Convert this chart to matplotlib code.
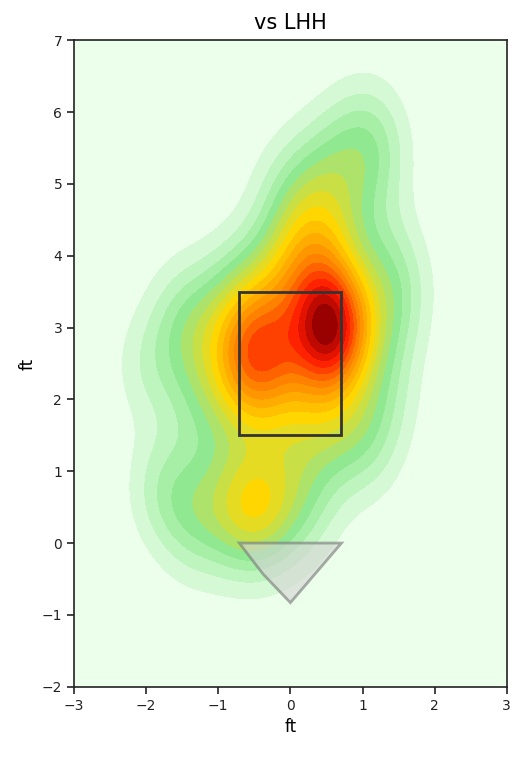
import numpy as np
import matplotlib.pyplot as plt
from matplotlib.colors import LinearSegmentedColormap
from matplotlib.patches import Rectangle, Polygon

# pitch locations (plate_x, plate_z) in ft
plate_x = [0.60, 0.55, 0.60, 0.55, 0.58, 0.52, 0.62,
           -0.40, -0.60, -0.20, -0.50, -0.30, 0.00, -0.70, 0.10,
           -0.50, -0.40,
           0.35, 0.85, 0.90, 0.50, 0.30,
           0.10, 0.30, 0.40, 0.00, 0.60, -0.20, 0.50, 0.30, -0.10, 1.10, 1.20,
           0.80, 0.70,
           1.30, 1.30, 1.30, 1.50, 1.10,
           -0.50, 0.10, 0.50, 0.80, -0.80,
           -1.00, -1.40, -1.95, -1.00, -1.30, -1.50, -0.60,
           -0.45, -0.50, -0.30, -0.60, -0.10, 0.30, -0.90, -1.50, -1.30,
           -1.80, -0.90, 0.10]
plate_z = [2.95, 3.10, 2.80, 3.00, 2.90, 3.20, 3.05,
           2.70, 2.50, 2.90, 3.10, 2.40, 2.60, 2.90, 3.10,
           2.75, 2.20,
           3.30, 2.60, 3.30, 2.20, 2.50,
           3.80, 4.20, 4.60, 4.00, 4.00, 3.60, 3.70, 5.10, 4.80, 5.75, 5.30,
           4.80, 5.50,
           3.00, 2.10, 4.00, 3.50, 1.40,
           1.80, 1.90, 1.70, 1.50, 2.10,
           2.50, 2.80, 2.45, 3.30, 1.90, 3.20, 3.70,
           0.55, 0.45, 0.90, 0.20, 0.30, 0.60, 0.40, 0.60, 0.20,
           0.80, 1.00, 1.20]

zone_x = [-0.708, 0.708]
zone_z = [1.5, 3.5]
plate_outline = [(-0.708, 0), (0.708, 0), (0, -0.83), (-0.38, -0.43)]

n_levels = 20
bw_adjust = 0.85

cmap = LinearSegmentedColormap.from_list(
    'heat', [(0, '#ebffeb'), (0.22, '#90e890'), (0.44, '#ffd700'),
             (0.67, '#ff8000'), (0.85, '#ff1a00'), (1, '#990000')])
band_colors = [cmap(i / (n_levels - 2)) for i in range(n_levels - 1)]

# gaussian kde, scott bandwidth per axis
pts = np.vstack([plate_x, plate_z])
n = pts.shape[1]
factor = n ** (-1 / 6) * bw_adjust
bw = pts.std(axis=1, ddof=1) * factor
gx, gy = np.meshgrid(np.linspace(-3, 3, 240), np.linspace(-2, 7, 360))
dx = (gx.ravel()[:, None] - pts[0][None, :]) / bw[0]
dy = (gy.ravel()[:, None] - pts[1][None, :]) / bw[1]
dens = np.exp(-0.5 * (dx ** 2 + dy ** 2)).sum(axis=1).reshape(gx.shape)

levels = np.linspace(0, dens.max(), n_levels)

fig = plt.figure(figsize=(5.14, 7.58), dpi=100)
ax = fig.add_axes([0.144, 0.094, 0.842, 0.853])
ax.set_facecolor(band_colors[0])
ax.contourf(gx, gy, dens, levels=levels, colors=band_colors)

ax.add_patch(Rectangle((zone_x[0], zone_z[0]), zone_x[1] - zone_x[0],
                       zone_z[1] - zone_z[0], fill=False, edgecolor='#333333',
                       linewidth=2))
ax.add_patch(Polygon(plate_outline, closed=True, facecolor='#d3d3d3',
                     alpha=0.6, edgecolor='#777777', linewidth=2))

ax.set_xlim(-3, 3)
ax.set_ylim(-2, 7)
ax.set_xticks(range(-3, 4))
ax.set_yticks(range(-2, 8))
ax.tick_params(labelsize=10, length=5, width=1.2, colors='#222222')
for s in ax.spines.values():
    s.set_linewidth(1.2)
    s.set_color('#222222')
ax.set_xlabel('ft', fontsize=12)
ax.set_ylabel('ft', fontsize=12)
ax.set_title('vs LHH', fontsize=15, pad=8)

fig.savefig('out.png', dpi=100)
